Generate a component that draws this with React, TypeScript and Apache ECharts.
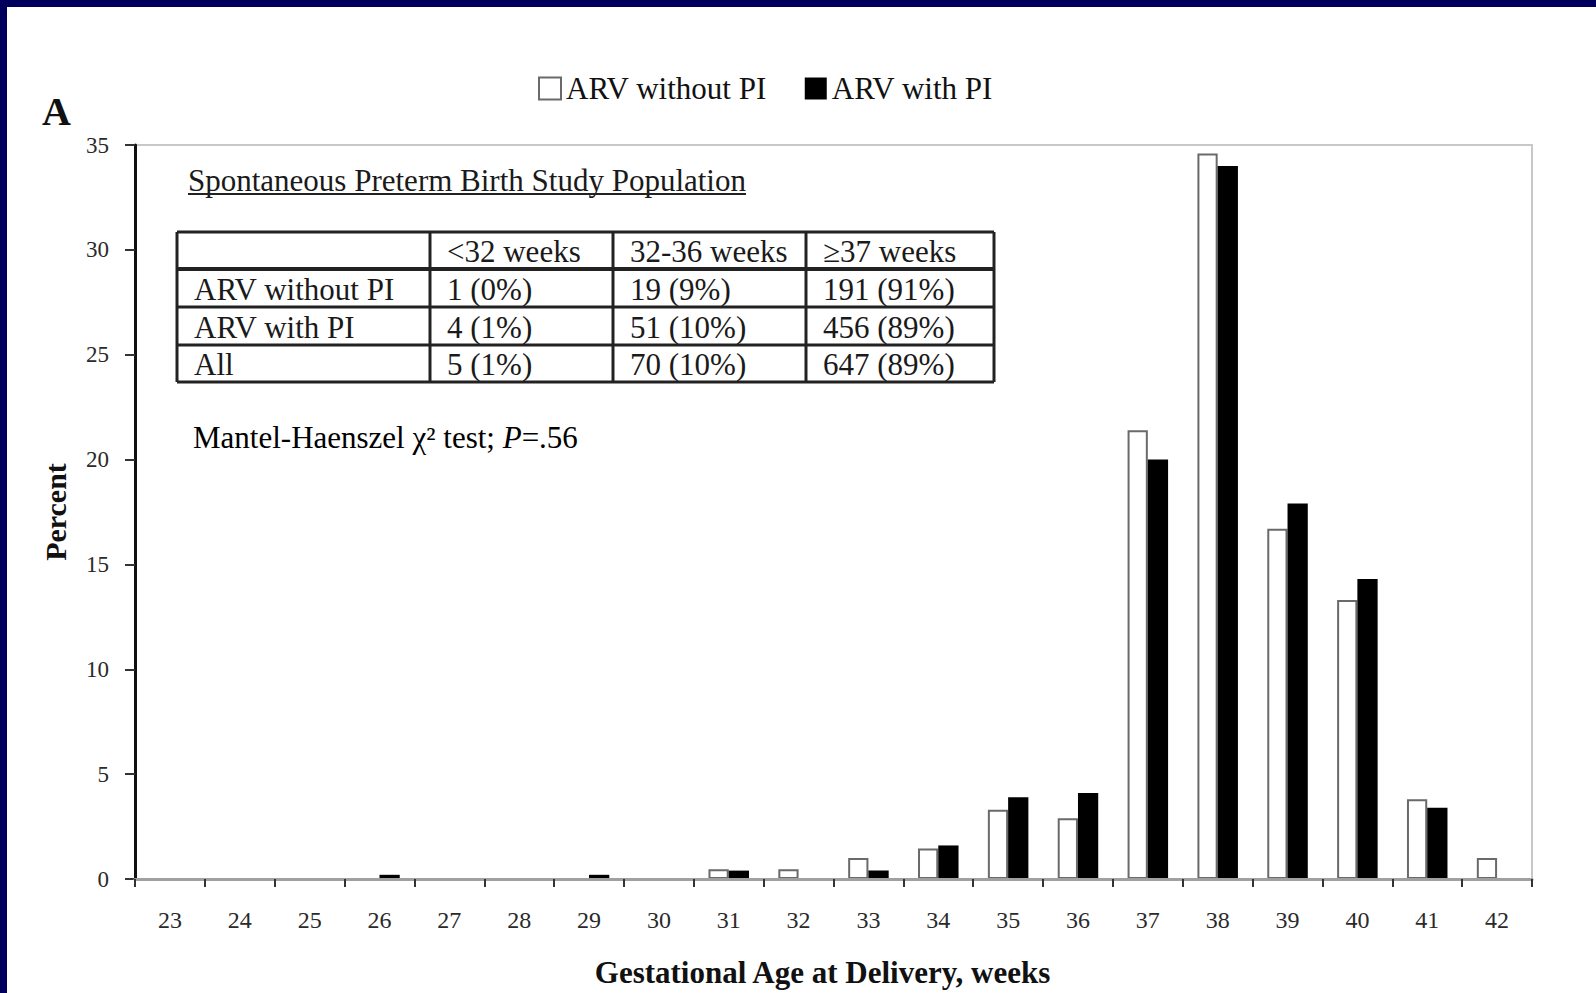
import React, { useEffect, useRef } from 'react';
import * as echarts from 'echarts';

const weeks = ['23', '24', '25', '26', '27', '28', '29', '30', '31', '32', '33', '34', '35', '36', '37', '38', '39', '40', '41', '42'];
const arvWithoutPI = [0, 0, 0, 0, 0, 0, 0, 0, 0.47, 0.47, 1.0, 1.45, 3.3, 2.9, 21.4, 34.6, 16.7, 13.3, 3.8, 1.0];
const arvWithPI = [0, 0, 0, 0.2, 0, 0, 0.2, 0, 0.4, 0, 0.4, 1.6, 3.9, 4.1, 20.0, 34.0, 17.9, 14.3, 3.4, 0];
const seriesNames = ['ARV without PI', 'ARV with PI'];

const panelLetter = 'A';
const tableTitle = 'Spontaneous Preterm Birth Study Population';
const tableHeader = ['', '<32 weeks', '32-36 weeks', '\u226537 weeks'];
const tableRows = [
  ['ARV without PI', '1 (0%)', '19 (9%)', '191 (91%)'],
  ['ARV with PI', '4 (1%)', '51 (10%)', '456 (89%)'],
  ['All', '5 (1%)', '70 (10%)', '647 (89%)'],
];
const testNoteStart = 'Mantel-Haenszel \u03c7\u00b2 test; ';
const testNoteP = 'P';
const testNoteEnd = '=.56';

const SERIF = "'Liberation Serif', 'Times New Roman', serif";

export default function App() {
  const ref = useRef<HTMLDivElement>(null);

  useEffect(() => {
    if (!ref.current) return;
    const chart = echarts.init(ref.current, undefined, { renderer: 'svg' });

    const colX = [177, 430, 613, 806, 994];
    const rowY = [232, 269, 307, 345, 382];
    const graphics: any[] = [];
    graphics.push({ type: 'rect', shape: { x: 0, y: 0, width: 1596, height: 7 }, style: { fill: '#00005c' } });
    graphics.push({ type: 'rect', shape: { x: 0, y: 0, width: 7, height: 993 }, style: { fill: '#00005c' } });
    graphics.push({
      type: 'text', x: 42, y: 111,
      style: { text: panelLetter, font: `bold 40px ${SERIF}`, fill: '#111', verticalAlign: 'middle', textVerticalAlign: 'middle' },
    });
    graphics.push({
      type: 'text', x: 188, y: 180,
      style: { text: tableTitle, font: `31px ${SERIF}`, fill: '#1a1a1a', verticalAlign: 'middle', textVerticalAlign: 'middle' },
    });
    graphics.push({ type: 'line', shape: { x1: 188, y1: 194, x2: 746, y2: 194 }, style: { stroke: '#222', lineWidth: 2 } });
    rowY.forEach((y, i) => {
      graphics.push({
        type: 'line', shape: { x1: colX[0], y1: y, x2: colX[colX.length - 1], y2: y },
        style: { stroke: '#222', lineWidth: i === 1 ? 4 : 3 },
      });
    });
    colX.forEach((x) => {
      graphics.push({
        type: 'line', shape: { x1: x, y1: rowY[0], x2: x, y2: rowY[rowY.length - 1] },
        style: { stroke: '#222', lineWidth: 3 },
      });
    });
    const allRows = [tableHeader, ...tableRows];
    allRows.forEach((row, r) => {
      row.forEach((cell, c) => {
        if (!cell) return;
        graphics.push({
          type: 'text', x: colX[c] + 17, y: (rowY[r] + rowY[r + 1]) / 2 + 1,
          style: { text: cell, font: `31px ${SERIF}`, fill: '#1a1a1a', verticalAlign: 'middle', textVerticalAlign: 'middle' },
        });
      });
    });
    graphics.push({
      type: 'text', x: 193, y: 437,
      style: {
        text: `{a|${testNoteStart}}{i|${testNoteP}}{a|${testNoteEnd}}`,
        verticalAlign: 'middle', textVerticalAlign: 'middle',
        rich: {
          a: { fontFamily: SERIF, fontSize: 31, color: '#1a1a1a' },
          i: { fontFamily: SERIF, fontSize: 31, fontStyle: 'italic', color: '#1a1a1a' },
        },
      },
    });

    chart.setOption({
      animation: false,
      backgroundColor: '#ffffff',
      textStyle: { fontFamily: SERIF },
      legend: {
        left: 533,
        top: 68,
        itemWidth: 22,
        itemHeight: 22,
        itemGap: 38,
        icon: 'rect',
        data: seriesNames,
        textStyle: { fontFamily: SERIF, fontSize: 31, color: '#111' },
      },
      grid: {
        left: 135, top: 145, width: 1397, height: 737,
        show: true, borderColor: '#c8c8c8', borderWidth: 2, backgroundColor: 'transparent',
      },
      xAxis: {
        type: 'category',
        data: weeks,
        z: 3,
        name: 'Gestational Age at Delivery, weeks',
        nameLocation: 'middle',
        nameGap: 78,
        nameTextStyle: { fontFamily: SERIF, fontSize: 31, fontWeight: 'bold', color: '#111', padding: [0, 22, 0, 0] },
        axisLine: { lineStyle: { color: '#a0a0a0', width: 3 } },
        axisTick: { show: true, interval: 0, length: 8, lineStyle: { color: '#333', width: 2 } },
        axisLabel: { interval: 0, margin: 29, fontSize: 24, color: '#2a2a2a', fontFamily: SERIF },
        splitLine: { show: false },
      },
      yAxis: {
        type: 'value',
        min: 0, max: 35, interval: 5,
        name: 'Percent',
        nameLocation: 'middle',
        nameGap: 65,
        nameTextStyle: { fontFamily: SERIF, fontSize: 30, fontWeight: 'bold', color: '#111' },
        axisLine: { show: true, lineStyle: { color: '#111', width: 3 } },
        axisTick: { show: true, length: 10, lineStyle: { color: '#333', width: 2 } },
        axisLabel: { margin: 26, fontSize: 23, color: '#2a2a2a', fontFamily: SERIF },
        splitLine: { show: false },
      },
      series: [
        {
          name: seriesNames[0], type: 'bar', data: arvWithoutPI,
          barWidth: '29%', barGap: '0%',
          itemStyle: { color: '#ffffff', borderColor: '#6a6a6a', borderWidth: 2 },
        },
        {
          name: seriesNames[1], type: 'bar', data: arvWithPI,
          barWidth: '29%', barGap: '0%',
          itemStyle: { color: '#000000' },
        },
      ],
      graphic: graphics,
    });

    return () => chart.dispose();
  }, []);

  return <div ref={ref} style={{ position: 'absolute', left: 0, top: 0, width: 1596, height: 993 }} />;
}
